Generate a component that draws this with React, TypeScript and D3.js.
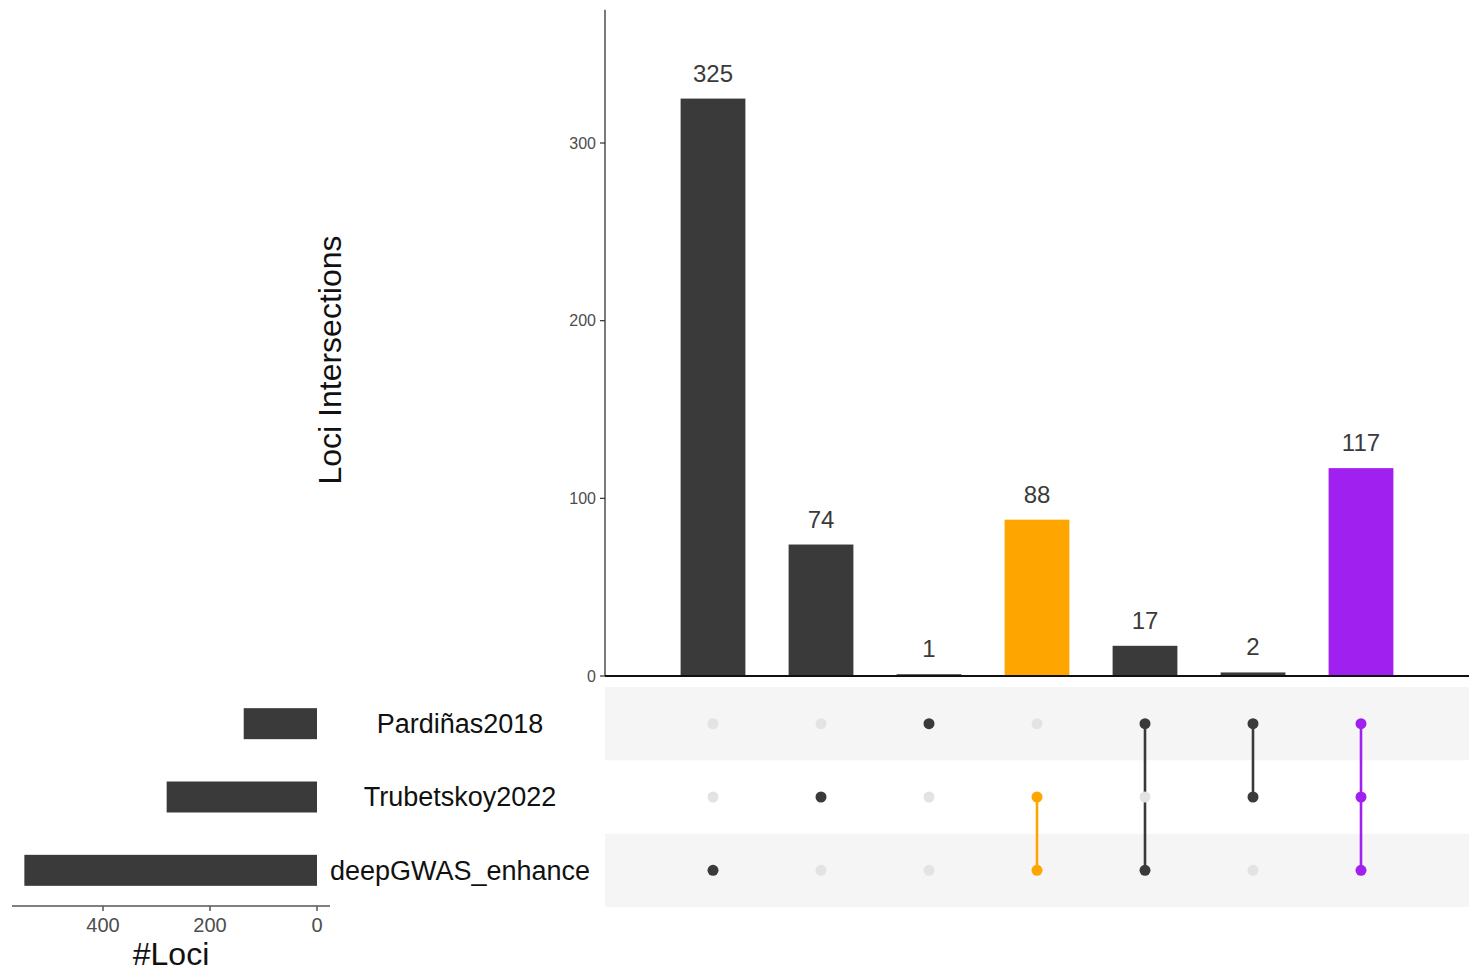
import React from "react";
import * as d3 from "d3";

const intersectionLabels = ["deepGWAS_enhance", "Trubetskoy2022", "Pardiñas2018", "T+D", "P+D", "P+T", "P+T+D"];
const intersectionValues = [325, 74, 1, 88, 17, 2, 117];
const intersectionColors = ["#3a3a3a", "#3a3a3a", "#3a3a3a", "#FFA500", "#3a3a3a", "#3a3a3a", "#A020F0"];
// membership per intersection, in set order (Pardiñas2018, Trubetskoy2022, deepGWAS_enhance)
const intersectionMembers = [
  [false, false, true],
  [false, true, false],
  [true, false, false],
  [false, true, true],
  [true, false, true],
  [true, true, false],
  [true, true, true],
];
const setNames = ["Pardiñas2018", "Trubetskoy2022", "deepGWAS_enhance"];
const setSizes = [137, 281, 547];
const yTicks = [0, 100, 200, 300];
const setTicks = [0, 200, 400];

const W = 1477;
const H = 971;
const FONT = "'Liberation Sans', Arial, Helvetica, sans-serif";

export default function App() {
  // main bar chart
  const x = d3.scaleBand<number>().domain(d3.range(intersectionValues.length)).range([605, 1469]).paddingInner(0.4).paddingOuter(0.7);
  const y = d3.scaleLinear().domain([0, 300]).range([676, 143]);
  const yTop = y(375);
  // matrix
  const rowY = d3.scaleBand<number>().domain(d3.range(setNames.length)).range([687, 907]);
  // set size bars
  const sx = d3.scaleLinear().domain([0, 400]).range([317, 103]);

  const cx = (i: number) => (x(i) as number) + x.bandwidth() / 2;
  const cy = (j: number) => (rowY(j) as number) + rowY.bandwidth() / 2;

  return (
    <svg width={W} height={H} style={{ position: "absolute", left: 0, top: 0, background: "#fff" }} fontFamily={FONT}>
      {/* y axis title */}
      <text transform={`translate(341,360) rotate(-90)`} textAnchor="middle" fontSize={32} fill="#111">
        Loci Intersections
      </text>
      {/* main y axis */}
      <line x1={605} x2={605} y1={yTop} y2={676} stroke="#222" strokeWidth={1.2} />
      {yTicks.map((t) => (
        <g key={t}>
          <line x1={600} x2={605} y1={y(t)} y2={y(t)} stroke="#333" strokeWidth={1.2} />
          <text x={596} y={y(t)} dy="0.35em" textAnchor="end" fontSize={16} fill="#4d4d4d">
            {t}
          </text>
        </g>
      ))}
      {/* bars */}
      {intersectionValues.map((v, i) => (
        <g key={i}>
          <rect x={x(i)} y={y(v)} width={x.bandwidth()} height={676 - y(v)} fill={intersectionColors[i]} />
          <text x={cx(i)} y={y(v) - 17} textAnchor="middle" fontSize={24} fill="#3a3a3a">
            {v}
          </text>
        </g>
      ))}
      <line x1={605} x2={1469} y1={676} y2={676} stroke="#111" strokeWidth={2} />

      {/* matrix stripes */}
      {setNames.map((s, j) =>
        j % 2 === 0 ? (
          <rect key={s} x={605} y={rowY(j)} width={1469 - 605} height={rowY.bandwidth()} fill="#f5f5f5" />
        ) : null
      )}
      {/* matrix connectors and dots */}
      {intersectionMembers.map((m, i) => {
        const idx = m.map((b, j) => (b ? j : -1)).filter((j) => j >= 0);
        const col = intersectionColors[i];
        return (
          <g key={i}>
            {idx.length > 1 && (
              <line x1={cx(i)} x2={cx(i)} y1={cy(d3.min(idx)!)} y2={cy(d3.max(idx)!)} stroke={col} strokeWidth={2.6} />
            )}
            {m.map((b, j) => (
              <circle key={j} cx={cx(i)} cy={cy(j)} r={5.5} fill={b ? col : "#e3e3e3"} />
            ))}
          </g>
        );
      })}

      {/* set labels */}
      {setNames.map((s, j) => (
        <text key={s} x={460} y={cy(j)} dy="0.35em" textAnchor="middle" fontSize={27} fill="#111">
          {s}
        </text>
      ))}

      {/* set size bars */}
      {setSizes.map((v, j) => (
        <rect key={j} x={sx(v)} y={cy(j) - 15.5} width={317 - sx(v)} height={31} fill="#3a3a3a" />
      ))}
      <line x1={12} x2={330} y1={906} y2={906} stroke="#555" strokeWidth={1.5} />
      {setTicks.map((t) => (
        <g key={t}>
          <line x1={sx(t)} x2={sx(t)} y1={906} y2={911} stroke="#555" strokeWidth={1.5} />
          <text x={sx(t)} y={925} dy="0.35em" textAnchor="middle" fontSize={20} fill="#4d4d4d">
            {t}
          </text>
        </g>
      ))}
      <text x={171} y={965} textAnchor="middle" fontSize={32} fill="#111">
        #Loci
      </text>
    </svg>
  );
}
